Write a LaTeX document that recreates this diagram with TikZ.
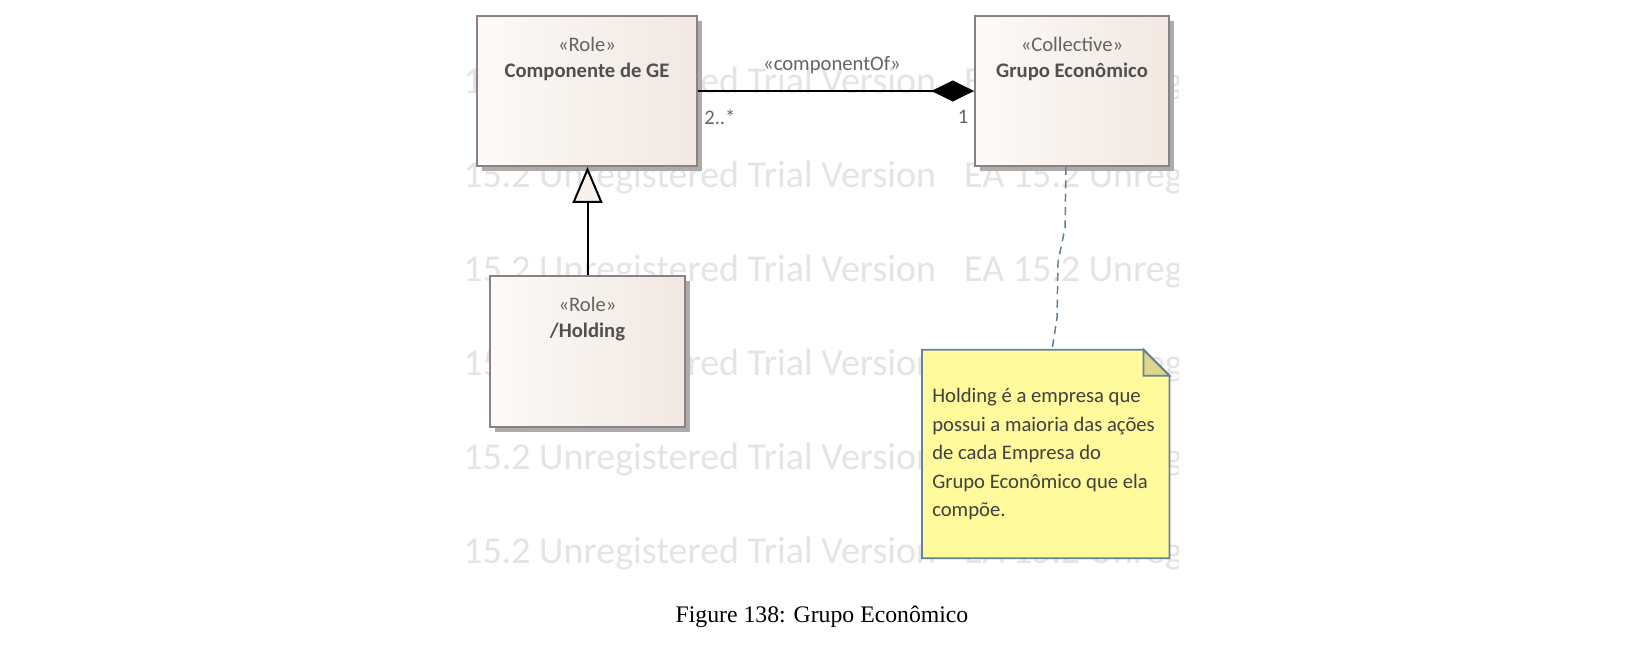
\documentclass[tikz,border=0pt]{standalone}
\usepackage{fontspec}
\setmainfont{Carlito}
\newfontfamily\capfont{Liberation Serif}
\usetikzlibrary{arrows.meta,shadows}
\definecolor{boxL}{RGB}{252,250,248}
\definecolor{boxR}{RGB}{241,232,225}
\definecolor{boxB}{RGB}{140,128,128}
\definecolor{txtS}{RGB}{100,100,100}
\definecolor{txtN}{RGB}{80,80,80}
\definecolor{wm}{RGB}{228,228,228}
\definecolor{noteF}{RGB}{255,250,155}
\definecolor{noteB}{RGB}{100,130,155}
\definecolor{foldF}{RGB}{220,215,140}
\definecolor{dashC}{RGB}{90,125,150}
\definecolor{shad}{RGB}{172,172,172}
\definecolor{triF}{RGB}{248,241,236}
\begin{document}
\begin{tikzpicture}[x=0.75pt,y=-0.75pt,
  umlbox/.style={draw=boxB, line width=1.4pt, left color=boxL, right color=boxR, inner sep=0pt,
    drop shadow={shadow xshift=3.75pt, shadow yshift=-3.75pt, fill=shad, opacity=1}},
  stereo/.style={text=txtS, font=\fontsize{15.5}{18}\selectfont, inner sep=0pt},
  cname/.style={text=txtN, font=\fontsize{15.5}{18}\selectfont\bfseries, inner sep=0pt},
  wmark/.style={text=wm, font=\fontsize{28.5}{34}\selectfont, anchor=west, inner sep=0pt},
  assoc/.style={line width=1.5pt, draw=black},
  genline/.style={line width=1.5pt, draw=black},
  dashconn/.style={draw=dashC, line width=1.1pt, dash pattern=on 6pt off 4pt},
  notestyle/.style={fill=noteF, draw=noteB, line width=1.4pt, line join=miter},
  notetext/.style={text=txtN!80!black, font=\fontsize{15.5}{21.4}\selectfont, align=left, inner sep=0pt, anchor=north west}
]
\useasboundingbox (0,0) rectangle (1652,660);

% watermark
\begin{scope}
\clip (463,0) rectangle (1178,569);
\foreach \r/\yy in {1/84,2/178,3/272,4/366,5/460,6/554}{
  \node[wmark] (wm\r) at (463,\yy) {15.2 Unregistered Trial Version\hspace{21pt}EA 15.2 Unregistered Trial Version};
}
\end{scope}

% classes
\node[umlbox, minimum width=165pt, minimum height=112.5pt] (cb) at (587,91) {};
\node[stereo] (cbs) at (587,44) {«Role»};
\node[cname] (cbn) at (587,72) {Componente de GE};

\node[umlbox, minimum width=145.5pt, minimum height=112.5pt] (gb) at (1072,91) {};
\node[stereo] (gbs) at (1072,44) {«Collective»};
\node[cname] (gbn) at (1072,72) {Grupo Econômico};

\node[umlbox, minimum width=146.25pt, minimum height=113.25pt] (hb) at (587.5,351.5) {};
\node[stereo] (hbs) at (587.5,304.5) {«Role»};
\node[cname] (hbn) at (587.5,332) {/Holding};

% association
\draw[assoc, -{Diamond[length=32pt 0, width=15.75pt 0, fill=black]}] (cb.east) -- (gb.west);
\node[stereo] (lblc) at (832,65) {«componentOf»};
\node[stereo, anchor=west] (m1) at (704,117) {2..*};
\node[stereo] (m2) at (963,117) {1};

% generalization
\draw[genline, -{Triangle[length=27pt 0, width=22.5pt 0, fill=triF]}] (hb.north) -- (hb.north |- cb.south);

% note
\node[minimum width=185.25pt, minimum height=156pt, inner sep=0pt] (note) at (1045.75,454) {};
\filldraw[notestyle] (note.north west) -- ([xshift=-19.5pt]note.north east) -- ([yshift=-19.5pt]note.north east) -- (note.south east) -- (note.south west) -- cycle;
\filldraw[fill=foldF, draw=noteB, line width=1.4pt] ([xshift=-19.5pt]note.north east) -- ([xshift=-19.5pt,yshift=-19.5pt]note.north east) -- ([yshift=-19.5pt]note.north east) -- cycle;
\node[notetext] (nt) at (932,388) {Holding é a empresa que\\possui a maioria das ações\\de cada Empresa do\\Grupo Econômico que ela\\compõe.};

% note link
\draw[dashconn] ([xshift=-4.5pt]gb.south) -- (1065,228) -- (1058,262) -- (1057,318) -- ([xshift=4.7pt]note.north);

% caption
\node[font=\capfont\fontsize{17.8}{20}\selectfont, text=black] (cap) at (822,617) {Figure 138: Grupo Econômico};
\end{tikzpicture}
\end{document}
